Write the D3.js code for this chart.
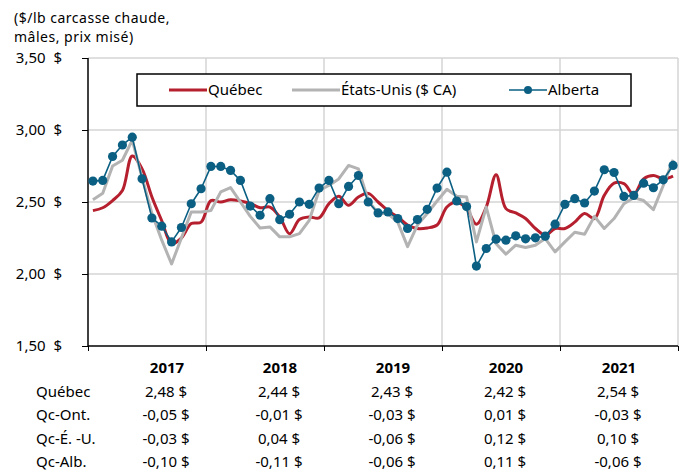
<!DOCTYPE html>
<meta charset="utf-8">

<body>
  <div id="graphique">
    <svg></svg>
  </div>
</body>

<style>

body {
  margin: 0;
  background: white;
}

svg text {
  font-family: "Noto Sans", sans-serif;
  fill: #000;
}

.grille line {
  stroke: #d4d4d4;
  stroke-width: 1.5;
}

</style>

<script src="https://d3js.org/d3.v7.min.js"></script>
<script>

// les données mensuelles, janvier 2017 à décembre 2021
var annees = ["2017", "2018", "2019", "2020", "2021"];

var quebec = [2.44, 2.46, 2.51, 2.58, 2.82, 2.73, 2.535, 2.37, 2.21, 2.25, 2.35, 2.36,
  2.51, 2.50, 2.516, 2.507, 2.49, 2.46, 2.465, 2.396, 2.28, 2.378, 2.396, 2.39,
  2.488, 2.54, 2.477, 2.535, 2.56, 2.50, 2.44, 2.396, 2.34, 2.316, 2.32, 2.34,
  2.465, 2.50, 2.454, 2.346, 2.465, 2.69, 2.454, 2.424, 2.385, 2.316, 2.27, 2.316,
  2.316, 2.36, 2.42, 2.385, 2.546, 2.631, 2.627, 2.553, 2.661, 2.684, 2.661, 2.68];

var etatsUnis = [2.516, 2.56, 2.75, 2.79, 2.93, 2.67, 2.42, 2.235, 2.07, 2.25, 2.43, 2.43,
  2.44, 2.57, 2.60, 2.50, 2.40, 2.32, 2.327, 2.258, 2.258, 2.28, 2.373, 2.58,
  2.615, 2.66, 2.754, 2.73, 2.51, 2.42, 2.42, 2.36, 2.19, 2.34, 2.42, 2.507,
  2.588, 2.54, 2.535, 2.223, 2.465, 2.21, 2.138, 2.20, 2.184, 2.20, 2.246, 2.154,
  2.223, 2.29, 2.276, 2.40, 2.316, 2.385, 2.488, 2.53, 2.51, 2.447, 2.615, 2.793];

var alberta = [2.645, 2.65, 2.816, 2.896, 2.95, 2.661, 2.389, 2.332, 2.223, 2.323, 2.488, 2.592,
  2.747, 2.747, 2.719, 2.65, 2.472, 2.408, 2.523, 2.377, 2.415, 2.50, 2.484, 2.597,
  2.65, 2.488, 2.608, 2.684, 2.50, 2.424, 2.431, 2.385, 2.316, 2.378, 2.449, 2.597,
  2.707, 2.507, 2.468, 2.055, 2.177, 2.242, 2.235, 2.265, 2.244, 2.251, 2.263, 2.346,
  2.484, 2.523, 2.493, 2.576, 2.724, 2.705, 2.539, 2.546, 2.631, 2.599, 2.654, 2.754];

var graduationsY = [1.5, 2.0, 2.5, 3.0, 3.5];

// titre de l'axe, sur deux lignes
var titreY = ["($/lb carcasse chaude,", "mâles, prix misé)"];

// le tableau sous le graphique
var lignesTableau = ["Québec", "Qc-Ont.", "Qc-É. -U.", "Qc-Alb."];
var valQuebec = ["2,48 $", "2,44 $", "2,43 $", "2,42 $", "2,54 $"];
var valQcOnt = ["-0,05 $", "-0,01 $", "-0,03 $", "0,01 $", "-0,03 $"];
var valQcEU = ["-0,03 $", "0,04 $", "-0,06 $", "0,12 $", "0,10 $"];
var valQcAlb = ["-0,10 $", "-0,11 $", "-0,06 $", "0,11 $", "-0,06 $"];

var series = [
  {nom: "Québec", valeurs: quebec, couleur: "#b51f2e", epaisseur: 3, lisse: true},
  {nom: "États-Unis ($ CA)", valeurs: etatsUnis, couleur: "#b3b3b3", epaisseur: 3, lisse: false},
  {nom: "Alberta", valeurs: alberta, couleur: "#0b5f83", epaisseur: 1.6, lisse: false, points: true}
];

var svg = d3.select("#graphique").select("svg")
    .attr("width", 681)
    .attr("height", 472);

var gauche = 88, droite = 678, haut = 58, bas = 346;

// les échelles
var x = d3.scaleLinear().domain([0, quebec.length]).range([gauche, droite]);
var y = d3.scaleLinear().domain([1.5, 3.5]).range([bas, haut]);

// GRILLE

var grille = svg.append("g").attr("class", "grille");

grille.selectAll("line.h")
    .data(graduationsY.slice(1))
    .enter()
    .append("line")
      .attr("class", "h")
      .attr("x1", gauche).attr("x2", droite)
      .attr("y1", d => y(d)).attr("y2", d => y(d));

grille.selectAll("line.v")
    .data(d3.range(1, annees.length + 1))
    .enter()
    .append("line")
      .attr("class", "v")
      .attr("x1", d => x(d * 12)).attr("x2", d => x(d * 12))
      .attr("y1", haut).attr("y2", bas);

// AXES

var axeY = d3.axisLeft(y)
    .tickValues(graduationsY)
    .tickSize(6)
    .tickPadding(20)
    .tickFormat(d => d3.format(".2f")(d).replace(".", ",") + "\u00a0\u00a0$");

svg.append("g")
    .attr("transform", "translate(" + gauche + ",0)")
    .call(axeY)
    .call(g => g.select(".domain").attr("d", "M0," + haut + "V" + bas).attr("stroke-width", 1.5))
    .call(g => g.selectAll("text").style("font-size", "15px").style("font-family", "'Noto Sans', sans-serif"));

var axeX = d3.axisBottom(x)
    .tickValues(d3.range(0, annees.length + 1).map(d => d * 12))
    .tickSize(5)
    .tickFormat("");

svg.append("g")
    .attr("transform", "translate(0," + bas + ")")
    .call(axeX)
    .call(g => g.select(".domain").attr("d", "M" + gauche + ",0H" + droite).attr("stroke-width", 1.5));

// titre de l'axe (un seul texte, deux lignes)
svg.append("text")
    .attr("y", 22.5)
    .style("font-size", "14px")
    .style("letter-spacing", "0.5px")
  .selectAll("tspan")
  .data(titreY)
  .enter()
  .append("tspan")
    .attr("x", 14)
    .attr("dy", (d, i) => i == 0 ? 0 : 19.5)
    .text(d => d);

// LIGNES

series.forEach(function(s) {
  var ligne = d3.line()
      .x((d, i) => x(i + 0.5))
      .y(d => y(d))
      .curve(s.lisse ? d3.curveCatmullRom : d3.curveLinear);

  svg.append("path")
      .datum(s.valeurs)
      .attr("fill", "none")
      .attr("stroke", s.couleur)
      .attr("stroke-width", s.epaisseur)
      .attr("stroke-linejoin", "round")
      .attr("d", ligne);

  if (s.points) {
    svg.append("g")
      .selectAll("circle")
      .data(s.valeurs)
      .enter()
      .append("circle")
        .attr("cx", (d, i) => x(i + 0.5))
        .attr("cy", d => y(d))
        .attr("r", 4.6)
        .attr("fill", s.couleur);
  }
});

// LÉGENDE

var legende = svg.append("g");

legende.append("rect")
    .attr("x", 137).attr("y", 74)
    .attr("width", 494).attr("height", 32)
    .attr("fill", "white")
    .attr("stroke", "black")
    .attr("stroke-width", 1.5);

var posLegende = [169, 292, 509];

var items = legende.selectAll("g.item")
    .data(series)
    .enter()
    .append("g")
      .attr("class", "item")
      .attr("transform", (d, i) => "translate(" + posLegende[i] + ",90)");

items.append("line")
    .attr("x1", 0).attr("x2", (d, i) => i == 1 ? 48 : 38)
    .attr("stroke", d => d.couleur)
    .attr("stroke-width", d => d.epaisseur);

items.filter(d => d.points)
  .append("circle")
    .attr("cx", 19)
    .attr("r", 4)
    .attr("fill", d => d.couleur);

items.append("text")
    .attr("x", (d, i) => i == 1 ? 49 : 39)
    .attr("dy", "0.35em")
    .style("font-size", "15px")
    .text(d => d.nom);

// TABLEAU

var colonnes = d3.scalePoint().domain(annees).range([167, 619]);
var rangees = d3.scalePoint().domain(["annee"].concat(lignesTableau)).range([368, 462]);

svg.append("g")
  .selectAll("text")
  .data(annees)
  .enter()
  .append("text")
    .attr("x", d => colonnes(d))
    .attr("y", rangees("annee"))
    .attr("dy", "0.35em")
    .attr("text-anchor", "middle")
    .style("font-size", "15px")
    .style("font-weight", "bold")
    .text(d => d);

svg.append("g")
  .selectAll("text")
  .data(lignesTableau)
  .enter()
  .append("text")
    .attr("x", 36)
    .attr("y", d => rangees(d))
    .attr("dy", "0.35em")
    .style("font-size", "15px")
    .text(d => d);

var valeursTableau = [valQuebec, valQcOnt, valQcEU, valQcAlb];

valeursTableau.forEach(function(rangee, j) {
  svg.append("g")
    .selectAll("text")
    .data(rangee)
    .enter()
    .append("text")
      .attr("x", (d, i) => colonnes(annees[i]) - 1)
      .attr("y", rangees(lignesTableau[j]))
      .attr("dy", "0.35em")
      .attr("text-anchor", "middle")
      .style("font-size", "15px")
      .text(d => d);
});

</script>
